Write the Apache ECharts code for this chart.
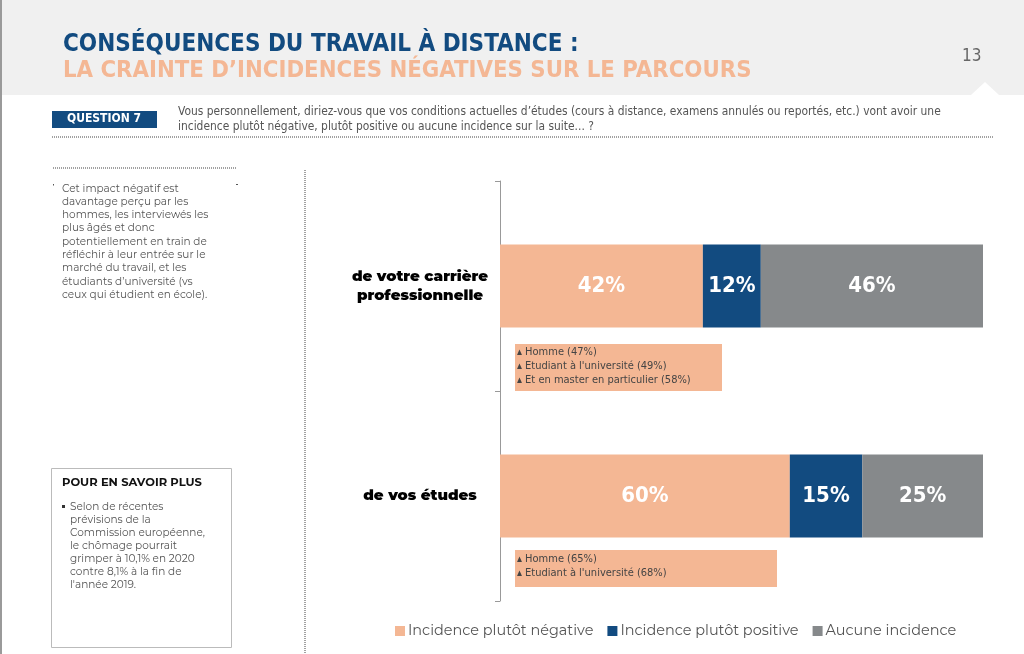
<!DOCTYPE html>
<html><head><meta charset="utf-8">
<script src="https://cdn.jsdelivr.net/npm/echarts@6/dist/echarts.min.js"></script>
<style>html,body{margin:0;padding:0;background:#fff}#c{width:1024px;height:654px}</style>
</head><body><div id="c"></div>
<script>
const categories = ['de votre carrière\nprofessionnelle', 'de vos études'];
const seriesNames = ['Incidence plutôt négative', 'Incidence plutôt positive', 'Aucune incidence'];
const negative = [42, 60];
const positive = [12, 15];
const none = [46, 25];
const colors = ['#f4b794', '#124b80', '#86898b'];
const noteTop = ['▴ Homme (47%)', '▴ Etudiant à l\'université (49%)', '▴ Et en master en particulier (58%)'];
const noteBottom = ['▴ Homme (65%)', '▴ Etudiant à l\'université (68%)'];

const chart = echarts.init(document.getElementById('c'));
const cond = '"DejaVu Sans Condensed", "DejaVu Sans", sans-serif';
const body = 'Montserrat, "Open Sans", sans-serif';

function txt(x, y, text, style) {
  return { type: 'text', x: x, y: y, style: Object.assign({ text: text, fill: '#555', font: '11px ' + body, textVerticalAlign: 'top' }, style) };
}

const graphics = [
  { type: 'rect', shape: { x: 0, y: 0, width: 1024, height: 95 }, style: { fill: '#f0f0f0' } },
  { type: 'polygon', shape: { points: [[971, 95], [985, 82], [999, 95]] }, style: { fill: '#fff' } },
  { type: 'rect', shape: { x: 0, y: 0, width: 2, height: 654 }, style: { fill: '#9a9a9a' } },
  txt(63, 33, 'CONSÉQUENCES DU TRAVAIL À DISTANCE :', { fill: '#124b80', font: 'bold 24px ' + cond }),
  txt(63, 59, 'LA CRAINTE D\u2019INCIDENCES NÉGATIVES SUR LE PARCOURS', { fill: '#f4b794', font: 'bold 23.7px ' + cond }),
  txt(962, 48, '13', { fill: '#666', font: '17px ' + cond }),
  { type: 'rect', shape: { x: 52, y: 111, width: 105, height: 17 }, style: { fill: '#124b80' } },
  txt(104, 113, 'QUESTION 7', { fill: '#fff', font: 'bold 12px ' + cond, align: 'center' }),
  txt(178, 106, 'Vous personnellement, diriez-vous que vos conditions actuelles d\u2019études (cours à distance, examens annulés ou reportés, etc.) vont avoir une', { fill: '#555', font: '11.9px ' + cond }),
  txt(178, 121, 'incidence plutôt négative, plutôt positive ou aucune incidence sur la suite... ?', { fill: '#555', font: '11.9px ' + cond }),
  { type: 'line', shape: { x1: 52, y1: 137, x2: 993, y2: 137 }, style: { stroke: '#444', lineWidth: 1, lineDash: [1, 1] } },
  { type: 'line', shape: { x1: 53, y1: 168, x2: 237, y2: 168 }, style: { stroke: '#444', lineWidth: 1, lineDash: [1, 1] } },
  { type: 'rect', shape: { x: 53, y: 184, width: 1, height: 1.5 }, style: { fill: '#555' } },
  { type: 'rect', shape: { x: 236, y: 184, width: 2, height: 1 }, style: { fill: '#555' } },
  { type: 'line', shape: { x1: 305, y1: 170, x2: 305, y2: 654 }, style: { stroke: '#444', lineWidth: 1, lineDash: [1, 1] } },
  { type: 'rect', shape: { x: 51.5, y: 468.5, width: 180, height: 179 }, style: { fill: 'none', stroke: '#bbb', lineWidth: 1 } },
  txt(62, 477, 'POUR EN SAVOIR PLUS', { fill: '#111', font: 'bold 11.5px ' + body }),
  { type: 'rect', shape: { x: 62, y: 505, width: 3, height: 3 }, style: { fill: '#333' } },
  { type: 'rect', shape: { x: 515, y: 344, width: 207, height: 47 }, style: { fill: '#f4b794' } },
  { type: 'rect', shape: { x: 515, y: 550, width: 262, height: 37 }, style: { fill: '#f4b794' } }
];
const leftText = ['Cet impact négatif est', 'davantage perçu par les', 'hommes, les interviewés les', 'plus âgés et donc', 'potentiellement en train de', 'réfléchir à leur entrée sur le', 'marché du travail, et les', 'étudiants d\u2019université (vs', 'ceux qui étudient en école).'];
leftText.forEach((t, i) => graphics.push(txt(62, 183 + i * 13.3, t, { font: '10.5px ' + body })));
const infoText = ['Selon de récentes', 'prévisions de la', 'Commission européenne,', 'le chômage pourrait', 'grimper à 10,1% en 2020', 'contre 8,1% à la fin de', 'l\'année 2019.'];
infoText.forEach((t, i) => graphics.push(txt(70, 501 + i * 13, t, { font: '10.5px ' + body })));
noteTop.forEach((t, i) => graphics.push(txt(517, 347 + i * 14, t, { fill: '#444', font: '11px ' + cond })));
noteBottom.forEach((t, i) => graphics.push(txt(517, 554 + i * 14, t, { fill: '#444', font: '11px ' + cond })));

const dataArrays = [negative, positive, none];
chart.setOption({
  animation: false,
  color: colors,
  graphic: graphics,
  grid: { left: 500, top: 181, width: 483, height: 420 },
  legend: {
    left: 390, top: 619, itemWidth: 10, itemHeight: 10, itemGap: 14, icon: 'rect',
    textStyle: { color: '#555', fontSize: 14.45, fontFamily: body, padding: [0, 0, 0, -2] },
    data: seriesNames
  },
  xAxis: { type: 'value', min: 0, max: 100, show: false },
  yAxis: {
    type: 'category', data: categories, inverse: true,
    axisLine: { lineStyle: { color: '#999' } },
    axisTick: { show: true, length: 5, lineStyle: { color: '#999' } },
    axisLabel: { align: 'center', margin: 80, color: '#000', fontWeight: 900, fontSize: 15, lineHeight: 19, fontFamily: body }
  },
  series: seriesNames.map((n, i) => ({
    name: n, type: 'bar', stack: 'total', barWidth: 83, data: dataArrays[i],
    label: { show: true, position: 'inside', formatter: '{c}%', color: '#fff', fontWeight: 'bold', fontSize: 22, fontFamily: cond }
  }))
});
</script></body></html>
